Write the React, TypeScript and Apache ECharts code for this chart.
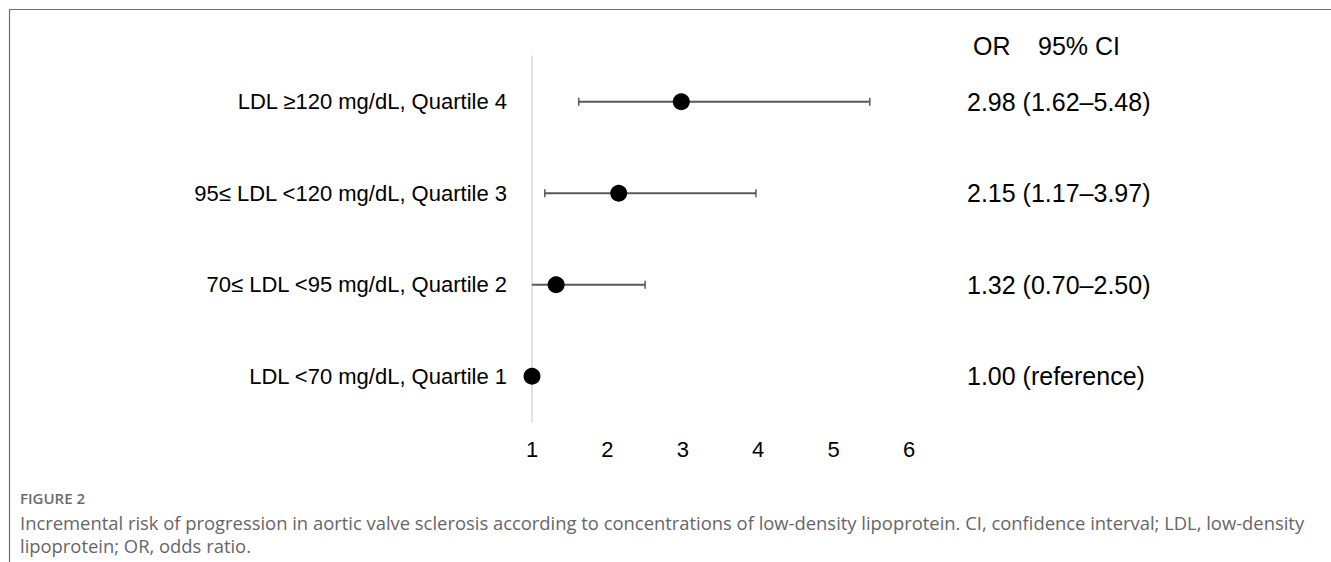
import React, { useEffect, useRef } from "react";
import * as echarts from "echarts";

const categories = [
  "LDL <70 mg/dL, Quartile 1",
  "70≤ LDL <95 mg/dL, Quartile 2",
  "95≤ LDL <120 mg/dL, Quartile 3",
  "LDL ≥120 mg/dL, Quartile 4",
];
const orValues = [1.0, 1.32, 2.15, 2.98];
const ciLow: (number | null)[] = [null, 0.7, 1.17, 1.62];
const ciHigh: (number | null)[] = [null, 2.5, 3.97, 5.48];
const ciLabels = [
  "1.00 (reference)",
  "1.32 (0.70–2.50)",
  "2.15 (1.17–3.97)",
  "2.98 (1.62–5.48)",
];
const xMin = 1;
const xMax = 6;
const xInterval = 1;
const headerOR = "OR";
const headerCI = "95% CI";
const figureLabel = "FIGURE 2";
const captionLines = [
  "Incremental risk of progression in aortic valve sclerosis according to concentrations of low-density lipoprotein. CI, confidence interval; LDL, low-density",
  "lipoprotein; OR, odds ratio.",
];

const ARIAL = "'Liberation Sans', Arial, sans-serif";
const CAP_FONT = "'Open Sans', 'Noto Sans', sans-serif";

export default function App() {
  const ref = useRef<HTMLDivElement>(null);
  useEffect(() => {
    if (!ref.current) return;
    const chart = echarts.init(ref.current, null, { renderer: "svg" });
    const errData = categories.map((_, i) => [i, ciLow[i], ciHigh[i]]);
    const option: any = {
      animation: false,
      backgroundColor: "#ffffff",
      grid: { left: 532, top: 56, width: 377, height: 366, containLabel: false },
      xAxis: {
        type: "value",
        min: xMin,
        max: xMax,
        interval: xInterval,
        axisLine: { show: false },
        axisTick: { show: false },
        splitLine: { show: false },
        axisLabel: {
          margin: 16,
          fontSize: 22,
          color: "#000",
          fontFamily: ARIAL,
        },
      },
      yAxis: [
        {
          type: "category",
          data: categories,
          boundaryGap: true,
          axisLine: { show: true, lineStyle: { color: "#d9d9d9", width: 1.5 } },
          axisTick: { show: false },
          splitLine: { show: false },
          axisLabel: {
            margin: 25,
            fontSize: 22,
            color: "#000",
            fontFamily: ARIAL,
          },
        },
        {
          type: "category",
          data: ciLabels,
          position: "right",
          boundaryGap: true,
          axisLine: { show: false },
          axisTick: { show: false },
          splitLine: { show: false },
          axisLabel: {
            margin: 58,
            align: "left",
            fontSize: 25,
            color: "#000",
            fontFamily: ARIAL,
          },
        },
      ],
      series: [
        {
          type: "custom",
          clip: false,
          data: errData,
          renderItem: (params: any, api: any) => {
            const lo = api.value(1);
            const hi = api.value(2);
            if (lo == null || hi == null || isNaN(lo) || isNaN(hi)) return null;
            const yIdx = api.value(0);
            const loC = Math.max(lo, xMin);
            const hiC = Math.min(hi, xMax);
            const p1 = api.coord([loC, yIdx]);
            const p2 = api.coord([hiC, yIdx]);
            const capH = 4;
            const st = { stroke: "#595959", lineWidth: 2 };
            const children: any[] = [
              { type: "line", shape: { x1: p1[0], y1: p1[1], x2: p2[0], y2: p2[1] }, style: st },
            ];
            if (lo >= xMin)
              children.push({
                type: "line",
                shape: { x1: p1[0], y1: p1[1] - capH, x2: p1[0], y2: p1[1] + capH },
                style: { stroke: "#595959", lineWidth: 1.5 },
              });
            if (hi <= xMax)
              children.push({
                type: "line",
                shape: { x1: p2[0], y1: p2[1] - capH, x2: p2[0], y2: p2[1] + capH },
                style: { stroke: "#595959", lineWidth: 1.5 },
              });
            return { type: "group", children };
          },
          z: 2,
        },
        {
          type: "scatter",
          clip: false,
          data: orValues.map((v, i) => [v, i]),
          symbol: "circle",
          symbolSize: 17,
          itemStyle: { color: "#000", opacity: 1 },
          z: 3,
        },
      ],
      graphic: [
        {
          type: "line",
          shape: { x1: 9, y1: 9.5, x2: 1331, y2: 9.5 },
          style: { stroke: "#6e6e6e", lineWidth: 1.2 },
        },
        {
          type: "line",
          shape: { x1: 9.5, y1: 9, x2: 9.5, y2: 562 },
          style: { stroke: "#6e6e6e", lineWidth: 1.2 },
        },
        {
          type: "text",
          x: 973,
          y: 46,
          style: { text: headerOR, fontSize: 25, fontFamily: ARIAL, fill: "#000", verticalAlign: "middle" },
        },
        {
          type: "text",
          x: 1038,
          y: 46,
          style: { text: headerCI, fontSize: 25, fontFamily: ARIAL, fill: "#000", verticalAlign: "middle" },
        },
        {
          type: "text",
          x: 20,
          y: 498,
          style: {
            text: figureLabel,
            fontSize: 15,
            fontWeight: 600,
            fontFamily: CAP_FONT,
            fill: "#6b6b6b",
            verticalAlign: "middle",
          },
        },
        {
          type: "text",
          x: 20,
          y: 522,
          style: {
            text: captionLines[0],
            fontSize: 18.4,
            fontFamily: CAP_FONT,
            fill: "#666666",
            verticalAlign: "middle",
          },
        },
        {
          type: "text",
          x: 20,
          y: 545,
          style: {
            text: captionLines[1],
            fontSize: 18.4,
            fontFamily: CAP_FONT,
            fill: "#666666",
            verticalAlign: "middle",
          },
        },
      ],
    };
    chart.setOption(option);
    return () => chart.dispose();
  }, []);
  return (
    <div
      ref={ref}
      style={{ position: "fixed", left: 0, top: 0, width: 1331, height: 562, background: "#fff" }}
    />
  );
}
